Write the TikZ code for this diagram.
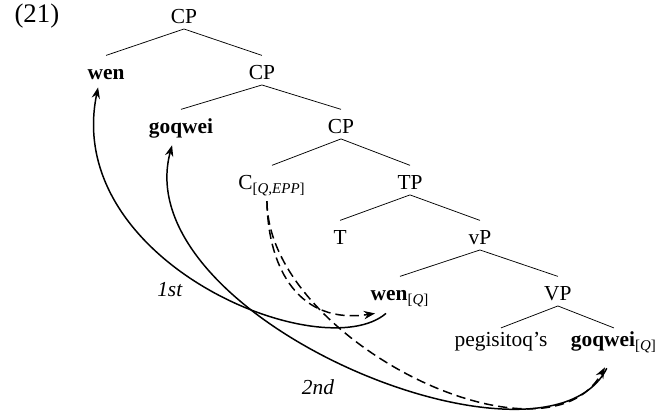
\documentclass[tikz,border=0pt]{standalone}
\usepackage{fontspec}
\setmainfont{Liberation Serif}
\usetikzlibrary{positioning,arrows.meta}

\begin{document}
\begin{tikzpicture}[x=0.5376pt,y=-0.5376pt,on grid,
    every node/.style={font=\fontsize{11.5}{14}\selectfont},
    cat/.style={inner sep=1pt,text height=12pt,text depth=1.5pt},
    leaf/.style={inner sep=1pt,text height=9pt,text depth=1.5pt},
    mv/.style={-{Stealth[length=6pt,width=4.5pt,inset=2pt]},line width=0.8pt},
    dmv/.style={mv,dash pattern=on 5pt off 2.7pt}]
    \useasboundingbox (0,0) rectangle (656,417);
    \node[anchor=base west,font=\fontsize{14.4}{17}\selectfont] (ex) at (8,23) {(21)};
    \node[cat] (cpa) at (184,14.2) {CP};
    \node[cat] (wen) [below left=30.1pt and 41.9pt of cpa] {\textbf{wen}};
    \node[cat] (cpb) [below right=30.1pt and 41.9pt of cpa] {CP};
    \node[cat] (goqwei) [below left=29pt and 43.5pt of cpb] {\textbf{goqwei}};
    \node[cat] (cpc) [below right=29pt and 42.5pt of cpb] {CP};
    \node[cat] (cq) [below left=30.1pt and 37.1pt of cpc] {C\textsubscript{[\textit{Q,EPP}]}};
    \node[cat] (tp) [below right=30.1pt and 37.1pt of cpc] {TP};
    \node[cat] (t) [below left=29.6pt and 37.6pt of tp] {T};
    \node[cat] (vp) [below right=29.6pt and 37.6pt of tp] {vP};
    \node[cat] (wenq) [below left=30.1pt and 43pt of vp] {\textbf{wen}\textsubscript{[\textit{Q}]}};
    \node[cat] (vpb) [below right=30.1pt and 41.9pt of vp] {VP};
    \node[leaf] (peg) [below left=26.2pt and 30.6pt of vpb] {pegisitoq's};
    \node[leaf] (goqweiq) [below right=26.2pt and 30.1pt of vpb] {\textbf{goqwei}\textsubscript{[\textit{Q}]}};

    \draw (cpa.south) -- (wen.north) (cpa.south) -- (cpb.north)
          (cpb.south) -- (goqwei.north) (cpb.south) -- (cpc.north)
          (cpc.south) -- (cq.north) (cpc.south) -- (tp.north)
          (tp.south) -- (t.north) (tp.south) -- (vp.north)
          (vp.south) -- (wenq.north) (vp.south) -- (vpb.north)
          (vpb.south) -- (peg.north) (vpb.south) -- (goqweiq.north);

    \draw[mv] ([xshift=-7.5pt,yshift=-4pt]wenq.south) .. controls (322,368) and (62,262) .. ([xshift=-4.3pt,yshift=-1.3pt]wen.south);
    \draw[mv] ([xshift=-3.8pt,yshift=-8.8pt]goqweiq.south) .. controls (545,490) and (125,318) .. ([xshift=-4.8pt,yshift=-3.4pt]goqwei.south);
    \draw[dmv] ([xshift=-2.7pt,yshift=-3.4pt]cq.south) .. controls (268,270) and (300,325) .. ([xshift=-13.4pt,yshift=-4pt]wenq.south);
    \draw[dmv] ([xshift=-2.7pt,yshift=-3.4pt]cq.south) .. controls (268,340) and (545,475) .. ([xshift=-4.8pt,yshift=-8.3pt]goqweiq.south);
    \node (first) at (170,290) {\textit{1st}};
    \node (second) at (318,387) {\textit{2nd}};
\end{tikzpicture}
\end{document}
